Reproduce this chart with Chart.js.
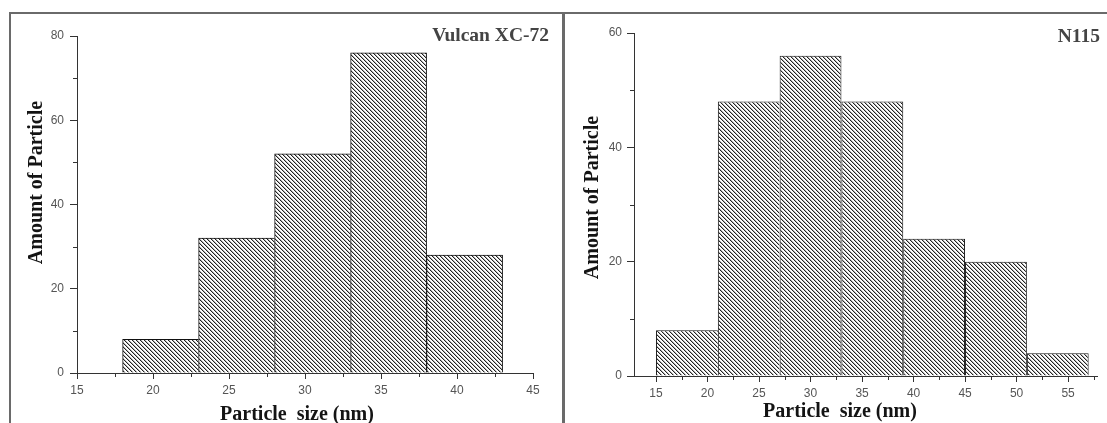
<!DOCTYPE html>
<html><head><meta charset="utf-8">
<script src="https://cdn.jsdelivr.net/npm/chart.js@4.4.1/dist/chart.umd.min.js"></script>
<style>
html,body{margin:0;padding:0;background:#fff;width:1107px;height:423px;overflow:hidden;position:relative}
.wrap{position:absolute;top:0;height:423px}
.frame{position:absolute;background:#6a6a6a}
canvas{display:block}
</style></head><body>
<div class="frame" style="left:9px;top:12px;width:2px;height:411px"></div>
<div class="frame" style="left:9px;top:12px;width:1098px;height:2px"></div>
<div class="frame" style="left:562px;top:12px;width:3px;height:411px"></div>
<div class="wrap" style="left:0;width:562px"><canvas id="cl" width="562" height="423"></canvas></div>
<div class="wrap" style="left:566px;width:541px"><canvas id="cr" width="541" height="423"></canvas></div>
<script>
// ---- data ----
const leftTitle = 'Vulcan XC-72';
const leftBinEdges = [18, 23, 28, 33, 38, 43];
const leftCounts = [8, 32, 52, 76, 28];
const leftXTicks = [15, 20, 25, 30, 35, 40, 45];
const leftXMinor = [17.5, 22.5, 27.5, 32.5, 37.5, 42.5];
const leftYTicks = [0, 20, 40, 60, 80];
const leftYMinor = [10, 30, 50, 70];

const rightTitle = 'N115';
const rightBinEdges = [15, 21, 27, 33, 39, 45, 51, 57];
const rightCounts = [8, 48, 56, 48, 24, 20, 4];
const rightXTicks = [15, 20, 25, 30, 35, 40, 45, 50, 55];
const rightXMinor = [17.5, 22.5, 27.5, 32.5, 37.5, 42.5, 47.5, 52.5, 57.5];
const rightYTicks = [0, 20, 40, 60];
const rightYMinor = [10, 30, 50];

const xAxisTitle = 'Particle  size (nm)';
const yAxisTitle = 'Amount of Particle';

// ---- helpers ----
function hatch(){
  const c = document.createElement('canvas'); c.width = 4; c.height = 4;
  const g = c.getContext('2d');
  g.fillStyle = '#fff'; g.fillRect(0,0,4,4);
  for (let y = 0; y < 4; y++) {
    g.fillStyle = '#222'; g.fillRect(y % 4, y, 1, 1);
    g.fillStyle = '#b4b4b4'; g.fillRect((y + 1) % 4, y, 1, 1);
  }
  return g.createPattern(c, 'repeat');
}

const decor = {
  id: 'decor',
  afterDraw(chart, args, o) {
    const ctx = chart.ctx, xs = chart.scales.x, ys = chart.scales.y;
    ctx.save();
    ctx.strokeStyle = o.axisColor; ctx.lineWidth = 1;
    ctx.beginPath();
    o.xMinor.forEach(v => {
      const px = Math.round(xs.getPixelForValue(v)) + 0.5;
      ctx.moveTo(px, ys.bottom); ctx.lineTo(px, ys.bottom + o.minorLen);
    });
    o.yMinor.forEach(v => {
      const py = Math.round(ys.getPixelForValue(v)) + 0.5;
      ctx.moveTo(xs.left, py); ctx.lineTo(xs.left - o.minorLen, py);
    });
    ctx.stroke();
    o.texts.forEach(t => {
      ctx.save();
      ctx.font = t.font; ctx.fillStyle = t.color;
      ctx.textAlign = t.align; ctx.textBaseline = 'alphabetic';
      ctx.translate(t.x, t.y);
      if (t.rot) ctx.rotate(t.rot);
      ctx.fillText(t.text, 0, 0);
      ctx.restore();
    });
    ctx.restore();
  }
};

function makeHist(id, cfg) {
  const edges = cfg.edges, counts = cfg.counts;
  const data = counts.map((c, i) => ({ x: (edges[i] + edges[i + 1]) / 2, y: c }));
  const binW = edges[1] - edges[0];
  const tickStep = cfg.xTicks[1] - cfg.xTicks[0];
  const ratio = binW / Math.min(binW, tickStep);
  const tickFont = { family: 'Liberation Sans, Arial, sans-serif', size: 12 };
  const axisColor = '#333';
  return new Chart(document.getElementById(id), {
    type: 'bar',
    data: { datasets: [{
      data,
      backgroundColor: hatch(),
      borderColor: '#111',
      borderWidth: (c) => {
        const i = c.dataIndex; const nxt = counts[i + 1];
        return { top: 1, left: 1, bottom: 0, right: (nxt === undefined || nxt < counts[i]) ? 1 : 0 };
      },
      borderSkipped: 'bottom',
      categoryPercentage: 1,
      barPercentage: ratio
    }]},
    options: {
      responsive: false, animation: false, devicePixelRatio: 1,
      layout: { padding: cfg.padding },
      plugins: {
        legend: { display: false }, tooltip: { enabled: false },
        decor: {
          axisColor, minorLen: 4,
          xMinor: cfg.xMinor, yMinor: cfg.yMinor,
          texts: [
            { text: cfg.title, x: cfg.titlePos[0], y: cfg.titlePos[1], align: 'right', font: 'bold 19.5px "Liberation Serif", "Times New Roman", serif', color: '#444' },
            { text: yAxisTitle, x: cfg.yLabPos[0], y: cfg.yLabPos[1], align: 'center', rot: -Math.PI / 2, font: 'bold 20px "Liberation Serif", "Times New Roman", serif', color: '#141414' },
            { text: xAxisTitle, x: cfg.xLabPos[0], y: cfg.xLabPos[1], align: 'center', font: 'bold 20px "Liberation Serif", "Times New Roman", serif', color: '#141414' }
          ]
        }
      },
      scales: {
        x: {
          type: 'linear', min: cfg.xMin, max: cfg.xMax, offset: false,
          afterBuildTicks: s => { s.ticks = cfg.xTicks.map(v => ({ value: v })); },
          afterFit: s => { s.height = cfg.xAxisH; },
          ticks: { color: '#555', font: tickFont, padding: cfg.xPad, maxRotation: 0, autoSkip: false },
          grid: { drawOnChartArea: false, offset: false, tickLength: 6, tickColor: axisColor, tickWidth: 1 },
          border: { display: true, color: axisColor, width: 1 }
        },
        y: {
          type: 'linear', min: 0, max: cfg.yMax,
          afterBuildTicks: s => { s.ticks = cfg.yTicks.map(v => ({ value: v })); },
          afterFit: s => { s.width = cfg.yAxisW; },
          ticks: { color: '#555', font: tickFont, padding: cfg.yPad },
          grid: { drawOnChartArea: false, tickLength: 7, tickColor: axisColor, tickWidth: 1 },
          border: { display: true, color: axisColor, width: 1 }
        }
      }
    },
    plugins: [decor]
  });
}

makeHist('cl', {
  edges: leftBinEdges, counts: leftCounts, xTicks: leftXTicks, xMinor: leftXMinor,
  yTicks: leftYTicks, yMinor: leftYMinor, title: leftTitle,
  xMin: 15, xMax: 45, yMax: 80,
  padding: { top: 36, right: 29, left: 0, bottom: 0 },
  xAxisH: 50, yAxisW: 77, xPad: 4, yPad: 6,
  titlePos: [549, 41], yLabPos: [42, 182.5], xLabPos: [297, 419.5]
});

makeHist('cr', {
  edges: rightBinEdges, counts: rightCounts, xTicks: rightXTicks, xMinor: rightXMinor,
  yTicks: rightYTicks, yMinor: rightYMinor, title: rightTitle,
  xMin: 12.86, xMax: 57.81, yMax: 60,
  padding: { top: 33, right: 10, left: 0, bottom: 0 },
  xAxisH: 47, yAxisW: 68, xPad: 4, yPad: 5,
  titlePos: [534, 41.5], yLabPos: [32, 197.5], xLabPos: [274, 416.7]
});
</script>
</body></html>
